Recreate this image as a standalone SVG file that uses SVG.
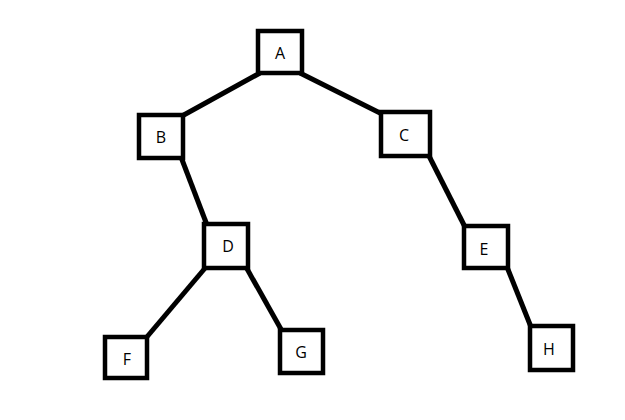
<svg xmlns="http://www.w3.org/2000/svg" width="625" height="420" viewBox="0 0 625 420">
<style>
.box{fill:#fff;stroke:#000;stroke-width:4.5}
.lbl{font-family:"Open Sans","Liberation Sans",sans-serif;font-size:16px;fill:#000;text-anchor:middle;dominant-baseline:central}
.edge{stroke:#000;stroke-width:5;fill:none}
</style>
<rect width="625" height="420" fill="#fff"/>
<g id="connectors">
<line class="edge" x1="260" y1="73" x2="182" y2="116"/>
<line class="edge" x1="300" y1="73" x2="382" y2="114"/>
<line class="edge" x1="181" y1="157" x2="207" y2="225"/>
<line class="edge" x1="428" y1="154" x2="465" y2="227"/>
<line class="edge" x1="507" y1="267" x2="531" y2="327"/>
<line class="edge" x1="206" y1="267" x2="146" y2="338"/>
<line class="edge" x1="246" y1="267" x2="282" y2="331"/>
</g>
<g id="A"><rect class="box" x="258" y="31" width="44" height="42"/><text class="lbl" x="280" y="53">A</text></g>
<g id="B"><rect class="box" x="139" y="115" width="44" height="43"/><text class="lbl" x="161" y="137">B</text></g>
<g id="C"><rect class="box" x="381" y="112" width="49" height="44"/><text class="lbl" x="404" y="135">C</text></g>
<g id="D"><rect class="box" x="204" y="224" width="44" height="44"/><text class="lbl" x="228" y="246">D</text></g>
<g id="E"><rect class="box" x="464" y="226" width="44" height="42"/><text class="lbl" x="484" y="249">E</text></g>
<g id="F"><rect class="box" x="105" y="337" width="42" height="41"/><text class="lbl" x="127" y="359">F</text></g>
<g id="G"><rect class="box" x="280" y="330" width="43" height="43"/><text class="lbl" x="301" y="352">G</text></g>
<g id="H"><rect class="box" x="530" y="326" width="43" height="44"/><text class="lbl" x="549" y="349">H</text></g>
</svg>
